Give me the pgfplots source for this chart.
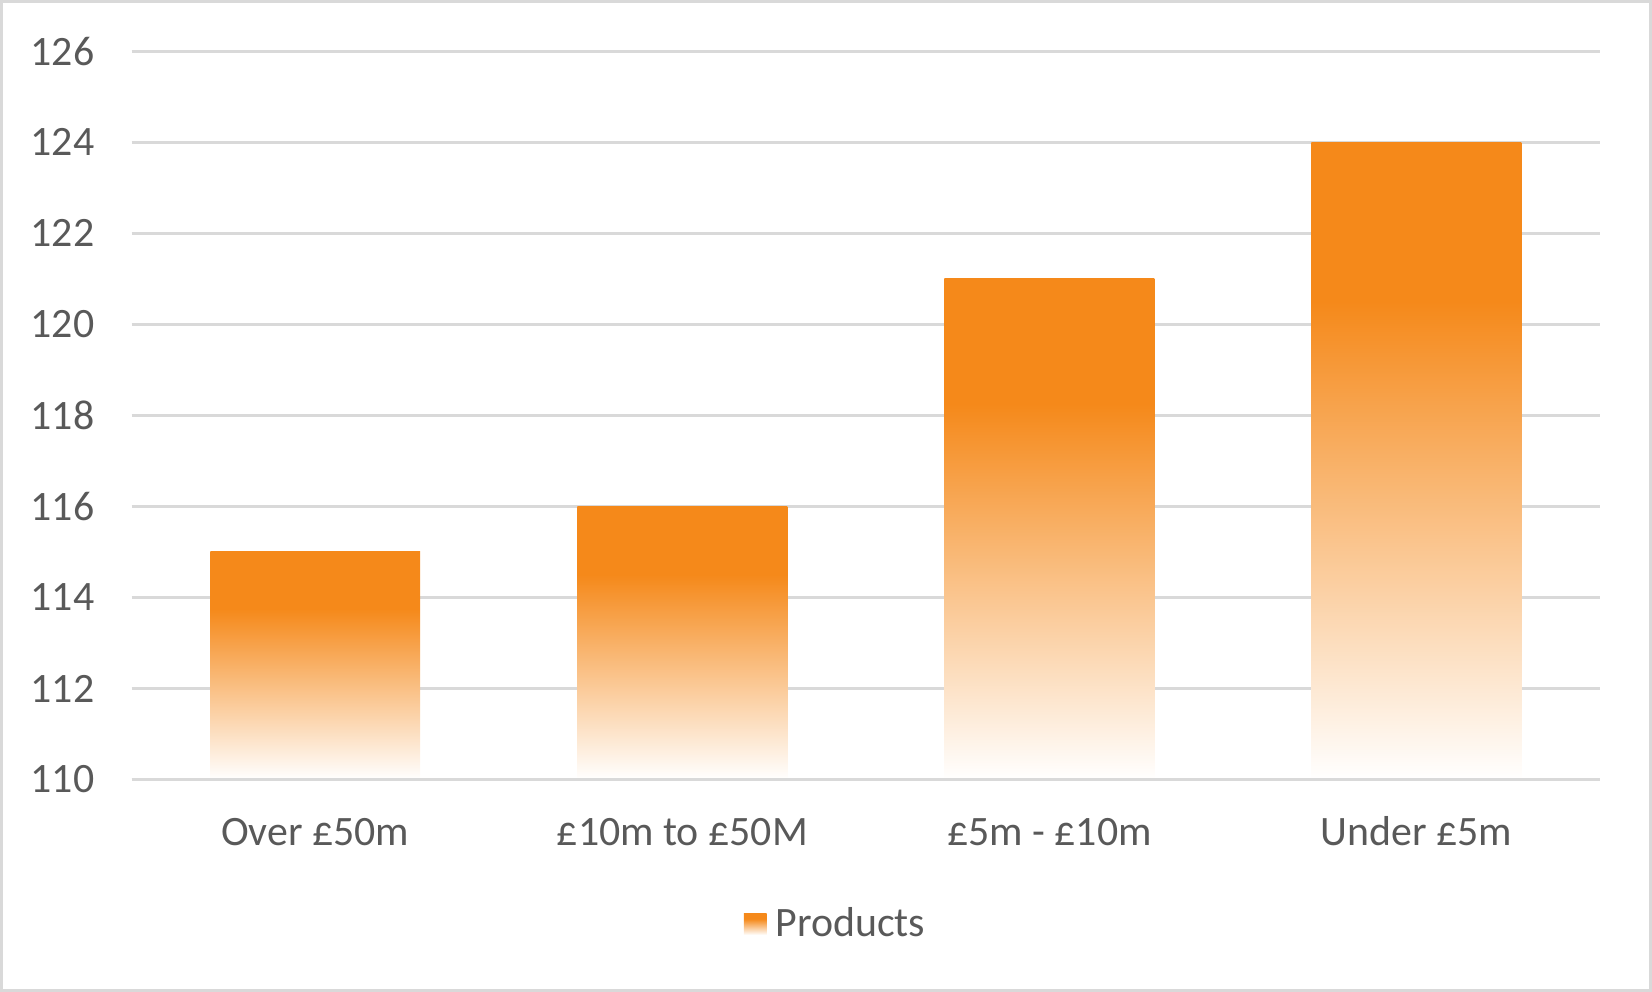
\documentclass[border=0pt]{standalone}
\usepackage{fontspec}
\setmainfont{Carlito}
\usepackage{pgfplots}
\pgfplotsset{compat=1.18}

\definecolor{barorange}{HTML}{F5891A}
\definecolor{gridgray}{HTML}{D9D9D9}
\definecolor{labelgray}{HTML}{595959}

% bar fill: solid orange for the top quarter, fading to white at the base
\pgfdeclareverticalshading{barfade}{100bp}{color(0bp)=(white); color(25bp)=(white); color(62.5bp)=(barorange); color(100bp)=(barorange)}

\pgfplotsset{
    fadebar/.style={bar width=0.572, bar shift=0, draw=none, shading=barfade, shade,
        legend image code/.code={\path[##1, draw=none] (0bp,0.5bp) rectangle (11.35bp,11.15bp);}},
}

\begin{document}
\begin{tikzpicture}
\begin{axis}[
    name=ax,
    at={(0,0)}, anchor=south west,
    scale only axis,
    width=734.15bp, height=364.15bp,
    ybar,
    xmin=-0.5, xmax=3.5,
    ymin=110, ymax=126,
    ytick={110,112,...,126},
    xtick={0,1,2,3},
    xticklabels={Over £50m, £10m to £50M, £5m - £10m, Under £5m},
    axis line style={draw=none},
    major tick length=0pt,
    ymajorgrids,
    grid style={line width=1.35bp, color=gridgray},
    tick label style={font=\fontsize{21}{25}\selectfont, text=labelgray, inner sep=0pt},
    yticklabel style={anchor=east, xshift=-18.5bp},
    xticklabel style={anchor=base, yshift=-32.75bp},
    /pgf/number format/assume math mode=true,
    legend style={
        at={(0.417,-0.219)}, anchor=south west,
        draw=none, fill=none, inner sep=0pt, outer sep=0pt,
        font=\fontsize{21}{25}\selectfont, text=labelgray,
        cells={anchor=base west},
        nodes={inner sep=0pt},
        column sep=4.5bp,
    },
]
% one plot per bar, so that each bar gets its own fade
\addplot[fadebar] coordinates {(0,115)};
\addlegendentry{Products}
\addplot[fadebar, forget plot] coordinates {(1,116)};
\addplot[fadebar, forget plot] coordinates {(2,121)};
\addplot[fadebar, forget plot] coordinates {(3,124)};
\end{axis}
\draw[gridgray, line width=1.35bp] (ax.south west) -- (ax.south east);
\draw[gridgray, line width=1.35bp]
    ([shift={(-65.175bp,-105.575bp)}]ax.south west) rectangle ([shift={(759.475bp,389.075bp)}]ax.south west);
\pgfresetboundingbox
\path[use as bounding box]
    ([shift={(-65.85bp,-106.25bp)}]ax.south west) rectangle ([shift={(760.15bp,389.75bp)}]ax.south west);
\end{tikzpicture}
\end{document}
